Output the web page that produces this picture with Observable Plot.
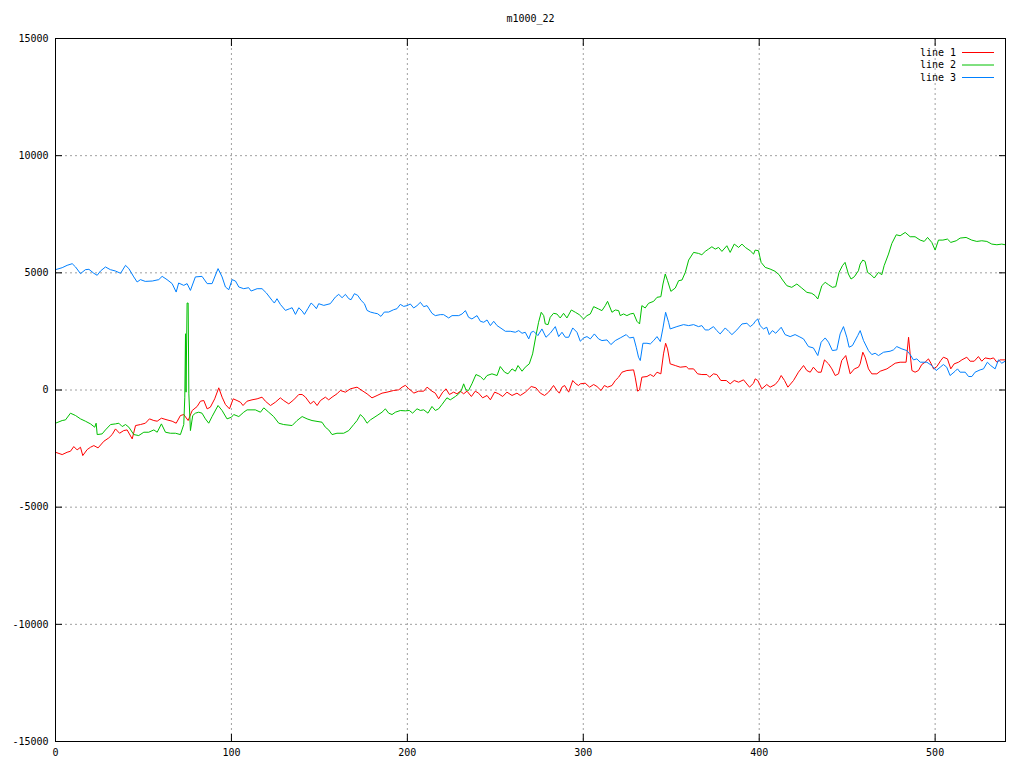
<!DOCTYPE html>
<html><head><meta charset="utf-8">
<script src="https://cdn.jsdelivr.net/npm/d3@7"></script>
<script src="https://cdn.jsdelivr.net/npm/@observablehq/plot@0.6"></script>
<style>body{margin:0;background:#fff}</style>
</head><body><div id="chart"></div>
<script>
const title = "m1000_22";
const seriesNames = ["line 1", "line 2", "line 3"];
const seriesColors = ["#ff0000", "#00c000", "#0080ff"];
const xTicks = [0, 100, 200, 300, 400, 500];
const yTicks = [-15000, -10000, -5000, 0, 5000, 10000, 15000];

const line1 = [[0,-2657],[3.8,-2756],[6.6,-2657],[8.5,-2614],[10.4,-2414],[12.3,-2557],[14.2,-2443],[15.5,-2799],[18,-2543],[19.9,-2443],[21.8,-2372],[24.2,-2471],[27.5,-2187],[30.3,-2044],[32.2,-1902],[34.1,-1660],[36.4,-1845],[38.8,-1731],[40.7,-1703],[43.6,-2087],[45.5,-1517],[48.3,-1474],[51.1,-1417],[53.4,-1232],[55.9,-1303],[57.8,-1332],[60.2,-1204],[63.4,-1275],[66.3,-1332],[68.6,-1417],[71,-1090],[72.9,-1047],[75.4,-1303],[77.7,-876],[80.5,-705],[82.4,-477],[84.3,-449],[86.2,-805],[88,-734],[90.5,-377],[92.8,93],[94.7,-306],[96.6,-620],[98.9,-805],[101,-377],[103.2,-449],[105.1,-520],[106.6,-662],[108.9,-477],[111.7,-420],[114.6,-377],[117.4,-306],[119.3,-477],[122.2,-662],[125,-520],[127.8,-335],[129.7,-449],[132.6,-591],[135.4,-420],[138.3,-192],[140.2,-192],[142.1,-306],[144.9,-591],[146.8,-477],[148.7,-662],[150.6,-449],[153.4,-306],[155.3,-420],[157.2,-306],[160,-164],[161.9,-21],[164.8,-93],[167.6,50],[171.4,121],[174.2,-21],[177.1,-164],[179.9,-335],[182.8,-235],[185.6,-135],[188.4,-93],[192.2,-21],[195.1,7],[197,121],[198.9,200],[200.8,50],[202.6,-50],[203.6,-135],[206.4,-50],[209.3,-50],[211.2,121],[214,-50],[215.9,-135],[217.8,-376],[220.1,-92],[222,50],[223.9,-192],[226.3,-92],[228.2,-163],[230.1,-50],[232,-163],[233.9,-50],[236.4,-277],[238.6,-50],[240.5,-135],[242.8,-334],[245.3,-234],[247.2,-419],[249.6,-92],[251.9,-163],[254.2,-277],[256.6,-92],[259.5,-234],[262.3,-135],[264.2,-234],[267.1,-92],[270.4,149],[273.1,92],[275.6,-135],[278,-234],[280.3,-92],[283.1,192],[285,-21],[286.4,-135],[287.9,121],[289.4,192],[291.7,-92],[294,405],[295.8,263],[297.3,192],[298.3,263],[301.1,291],[303.6,121],[305.9,234],[307.8,149],[310.1,-21],[312,192],[313.8,121],[316.3,192],[318.2,405],[320.1,547],[322,760],[324.8,831],[328.6,859],[329.5,547],[330.9,-50],[332,7],[333.3,547],[336.2,575],[338.1,660],[340,575],[341.9,760],[344.1,689],[345.6,1541],[346.8,1995],[347.9,1754],[349.4,1115],[352.3,1044],[355.1,973],[358.5,1001],[359.9,902],[362.7,902],[365,689],[367.4,660],[370.3,660],[371.8,547],[374,689],[375.9,660],[378.2,405],[381.3,405],[383.5,263],[385.8,405],[388.3,334],[391.1,433],[394.5,121],[396.8,291],[397.7,476],[399.2,405],[401.5,50],[404.3,234],[406.2,121],[409.1,234],[411,405],[412.5,618],[414.4,405],[416.3,121],[419.5,405],[422.3,760],[425.2,1044],[427.1,831],[429,760],[430.8,973],[433.3,760],[435.2,760],[437.1,1285],[439.4,1115],[441.3,902],[443.2,618],[445.1,689],[446.9,1257],[449.2,1470],[451.7,689],[454.1,902],[456.4,973],[457.4,1115],[458.9,1612],[460.2,1399],[462.1,902],[464,689],[466.9,689],[468.8,802],[472.6,902],[475.4,1044],[477.3,1143],[480.1,1186],[483.5,1186],[484.9,2251],[485.8,1541],[486.8,831],[488.6,760],[490.5,831],[492.4,1087],[494.3,1186],[496.2,1328],[497.6,1143],[499.1,902],[501,1001],[503.2,1257],[504.7,1399],[507,1328],[508.9,902],[510.8,1115],[513.3,1186],[515.2,1285],[518,1399],[519.9,1228],[522.2,1228],[524.6,1427],[526.5,1228],[528.4,1370],[531.3,1328],[533.2,1370],[535.1,1186],[536.9,1285],[539.8,1285]];

const line2 = [[0,-1417],[3.8,-1303],[5.7,-1275],[8.5,-990],[11.4,-1090],[14.2,-1232],[17,-1332],[19.9,-1446],[22.3,-1588],[23.1,-1417],[23.7,-1902],[26.5,-1873],[28.4,-1703],[31.3,-1474],[34.1,-1446],[36,-1417],[37.9,-1560],[39.8,-1474],[41.7,-1588],[44.5,-1902],[47.3,-1944],[50.2,-1802],[53,-1802],[55.9,-1703],[57.8,-1802],[60.2,-1446],[62.5,-1802],[65.3,-1845],[68.2,-1845],[71,-1902],[72.9,-1474],[73.5,-306],[73.9,2400],[74.2,-93],[74.8,3711],[75.4,3711],[75.8,-164],[76.7,-1731],[78,-1090],[79.5,-990],[81.4,-947],[83.3,-990],[85.2,-1232],[87.1,-1417],[89,-1133],[92.4,-662],[94.7,-876],[97.5,-1232],[100,-1161],[101.3,-1047],[104.2,-1133],[107,-947],[108.9,-848],[113.6,-848],[116.5,-947],[118.4,-762],[121.2,-947],[124,-1133],[126.9,-1417],[129.7,-1474],[134.5,-1517],[137.3,-1303],[140.2,-1133],[143,-1232],[145.8,-1303],[151.5,-1375],[153.4,-1588],[155.3,-1703],[157.2,-1902],[160,-1845],[163.8,-1845],[166.7,-1731],[169.5,-1474],[171.4,-1303],[173.3,-1047],[175.2,-1190],[177.1,-1417],[179,-1275],[182.8,-1090],[185.6,-947],[187.5,-805],[189.4,-990],[191.3,-1047],[193.2,-947],[196,-876],[198.9,-890],[201.1,-873],[203,-987],[205.5,-802],[207.4,-873],[209.3,-845],[211.7,-987],[214,-703],[215.9,-873],[217.8,-802],[219.7,-618],[222.5,-334],[224.4,-419],[227.3,-277],[229.2,-163],[230.7,-21],[232,263],[233.3,7],[234.8,-21],[236.7,263],[239,660],[241.5,575],[243.4,433],[245.3,618],[248.1,689],[251,618],[252.8,1001],[255.3,760],[257.2,689],[259.5,902],[261.4,802],[262.9,1044],[265.2,802],[267,973],[269.3,1115],[271.2,1541],[273.1,2322],[274.6,2890],[276.1,3316],[277.5,3174],[278.4,2819],[280,2790],[281.2,3103],[283.1,3273],[285,3245],[286.9,3074],[288.8,3273],[290.7,3074],[293.2,3415],[295.5,3316],[297.7,3216],[299.6,3074],[300.2,3032],[302.1,3174],[304,3245],[305.9,3557],[308.7,3458],[310.6,3387],[312.5,3600],[313.8,3784],[316.3,3316],[318.2,3415],[320.1,3387],[321,3174],[322.9,3245],[324.8,3174],[326.7,3245],[328.6,3273],[330.5,2932],[332,2819],[333.3,3600],[335.2,3500],[337.1,3699],[340,3784],[341.9,3955],[344.1,3983],[345.3,4523],[346.6,4949],[347.9,4665],[349.8,4210],[352.3,4352],[354.2,4665],[356.1,4693],[358,5020],[359.9,5545],[362.7,5872],[365.5,5829],[367.4,5772],[369.3,5914],[371.2,6013],[373.1,6113],[375,6013],[376.9,6084],[378.8,5914],[381.6,6156],[383.5,5872],[385.8,6227],[388.3,6084],[390.2,6227],[392.1,6084],[394.9,5943],[396.8,5801],[397.7,5971],[399.6,5943],[401.1,5446],[403.4,5233],[406.2,5162],[409.1,5063],[411.3,4921],[412.9,4736],[415.7,4452],[418.5,4381],[421.4,4523],[424.2,4352],[427.1,4168],[429.9,4125],[431.8,4026],[433.3,3884],[435.6,4452],[437.5,4594],[439.4,4494],[441.6,4381],[443.5,4409],[445.4,5020],[447.3,5304],[448.8,5446],[450.7,4949],[452.2,4736],[454.1,4835],[456.4,5091],[457.4,5375],[458.9,5545],[460.2,5488],[461.6,5020],[463.5,4921],[465.4,4778],[467.8,5020],[469.7,4921],[471,5304],[473.5,5801],[475.4,6255],[477.9,6625],[480.1,6582],[483,6724],[485.8,6540],[488.6,6540],[491.5,6397],[493.8,6340],[495.7,6511],[498.1,6298],[500,5971],[501.9,6397],[504.4,6397],[507,6440],[508.9,6298],[512,6369],[514.2,6483],[517.6,6511],[520.8,6397],[523.7,6340],[526.5,6369],[529.4,6340],[532.2,6227],[535.1,6198],[537.9,6227],[539.8,6198]];

const line3 = [[0,5135],[3.8,5220],[6.6,5320],[9.5,5390],[11.4,5250],[14.2,4965],[17,5135],[19,5150],[21.8,4980],[23.7,4895],[25.6,5080],[28.4,5250],[31.2,5135],[34,5080],[37,4980],[39.8,5320],[41.7,5180],[44.5,4825],[46.4,4610],[48.3,4710],[51,4635],[55,4650],[58.7,4710],[60.6,4850],[63.4,4710],[66.3,4540],[68.6,4180],[70,4565],[72.9,4465],[74.8,4540],[76.7,4250],[79.5,4825],[83.3,4850],[86.2,4540],[89,4540],[92.4,5180],[94.7,4825],[96.6,4395],[98.5,4280],[100.4,4710],[102.3,4650],[104.2,4395],[107,4323],[109.8,4366],[111.2,4224],[114.6,4323],[117.4,4323],[119.9,4138],[123.1,3825],[124.4,3711],[125.9,3896],[127.8,3654],[130.7,3397],[133.1,3469],[134.5,3511],[136.4,3226],[138.3,3511],[140.2,3369],[141.5,3226],[143.4,3469],[145.3,3711],[146.8,3611],[148.3,3469],[149.6,3683],[152.5,3611],[156.2,3683],[159.1,3967],[161,4081],[162.9,3939],[164.8,4081],[166.7,3896],[168,3853],[169.9,4110],[171.8,4038],[173.7,3825],[175.6,3683],[177.1,3397],[179,3326],[181.2,3283],[183.1,3255],[185,3141],[186.9,3326],[189.4,3326],[192.2,3426],[194.1,3469],[196,3654],[197.9,3568],[199.8,3600],[201.7,3671],[203.6,3500],[205.5,3600],[207.4,3742],[209.3,3557],[211.2,3600],[214,3273],[215.9,3174],[218.7,3216],[220.6,3216],[223.5,3074],[225.4,3174],[229.2,3174],[231.1,3245],[233,3387],[234.8,3103],[236.7,3032],[239.6,3174],[241.5,2932],[243.4,2890],[245.3,2989],[247.2,2748],[249.1,2932],[251,2748],[253.8,2606],[255.7,2506],[258.5,2506],[261.4,2464],[263.3,2535],[265.2,2421],[267,2464],[269,2180],[270.4,2464],[271.8,2506],[274.2,2322],[276.5,2606],[278.8,2251],[281.2,2421],[284.1,2705],[286,2279],[287.9,2464],[289.8,2251],[291.7,2251],[294,2648],[296.4,2464],[298.3,2080],[300.2,2222],[302.1,2279],[304,2180],[306.3,2393],[308.7,2180],[310.6,2109],[313.5,2137],[315.7,1938],[318.2,2109],[321,2222],[324.4,2364],[326.3,2222],[328.6,2251],[330.1,1825],[331.4,1399],[332.4,1257],[333.9,1995],[336.2,1995],[338.1,1967],[340,2109],[341.9,2279],[343.8,2066],[345.3,2648],[346.8,3316],[348.5,2890],[349.4,2606],[353.2,2705],[357,2790],[359.9,2748],[362.7,2790],[365.5,2705],[367.4,2748],[369.3,2563],[371.2,2563],[374,2705],[375.9,2535],[377.8,2393],[380.7,2648],[382.6,2506],[384.5,2364],[387.3,2563],[390.2,2819],[393,2847],[394.9,2705],[396.8,2819],[397.7,2932],[399.2,3032],[400.5,2748],[402.4,2606],[404.3,2677],[405.7,2364],[407.5,2535],[409.4,2421],[412.5,2677],[414.7,2364],[417.6,2279],[420.4,2364],[422.7,2279],[425.2,2180],[428,1853],[430.8,1796],[433.3,1470],[435.2,2038],[437.5,2222],[439.4,2038],[441.6,1683],[444.1,1711],[446,2393],[447.9,2705],[449.8,2251],[451.1,1825],[453,1896],[456,2322],[457.4,2535],[459.3,2109],[462.1,1683],[464,1512],[465.9,1569],[467.8,1470],[470.7,1612],[474.4,1654],[476.3,1711],[478.2,1853],[481.1,1754],[483.9,1683],[485.8,1512],[487.7,1285],[489.6,1328],[491.5,1186],[495.3,1186],[498.1,1044],[500.6,831],[502.9,973],[504.7,1087],[506.6,973],[508.5,618],[511.4,802],[512.7,902],[514.2,760],[517.1,760],[519,575],[520.9,575],[522.7,760],[525.6,859],[527.5,902],[529.7,1186],[531.6,1044],[534.1,902],[536,1285],[537.9,1143],[539.8,1228]];

const series = [line1, line2, line3];
const W = 1024, H = 768, mL = 55, mR = 19, mT = 38, mB = 27;
const font = "DejaVu Sans Mono";

const chart = Plot.plot({
  width: W, height: H,
  marginLeft: mL, marginRight: mR, marginTop: mT, marginBottom: mB,
  style: {fontFamily: font, fontSize: "10px", color: "#000", background: "#fff"},
  x: {domain: [0, 540]},
  y: {domain: [-15000, 15000]},
  marks: [
    Plot.gridX(xTicks, {stroke: "#a0a0a0", strokeOpacity: 1, strokeDasharray: "2,3"}),
    Plot.gridY(yTicks, {stroke: "#a0a0a0", strokeOpacity: 1, strokeDasharray: "2,3"}),
    ...series.map((s, i) => Plot.line(s, {x: d => d[0], y: d => d[1], stroke: seriesColors[i], strokeWidth: 1})),
    Plot.frame({stroke: "#000"}),
    Plot.axisX(xTicks, {anchor: "bottom", tickSize: -7, tickPadding: 14, tickFormat: d => String(d), label: null}),
    Plot.axisX(xTicks, {anchor: "top", tickSize: -7, tickFormat: () => "", label: null}),
    Plot.axisY(yTicks, {anchor: "left", tickSize: -7, tickPadding: 14, tickFormat: d => String(d), label: null}),
    Plot.axisY(yTicks, {anchor: "right", tickSize: -7, tickFormat: () => "", label: null}),
    Plot.text([title], {frameAnchor: "top", lineAnchor: "middle", dy: -20, text: d => d, fontSize: 10})
  ]
});

const svg = d3.select(chart);
const lg = svg.append("g").attr("font-family", font).attr("font-size", 10);
const xr = W - mR;
seriesNames.forEach((n, i) => {
  const y = mT + 14.5 + i * 12.5;
  lg.append("text").attr("x", xr - 49).attr("y", y).attr("dy", "0.32em")
    .attr("text-anchor", "end").attr("fill", "#000").text(n);
  lg.append("line").attr("x1", xr - 43).attr("x2", xr - 11)
    .attr("y1", y).attr("y2", y).attr("stroke", seriesColors[i]).attr("stroke-width", 1);
});

document.getElementById("chart").appendChild(chart);
</script>
</body></html>
